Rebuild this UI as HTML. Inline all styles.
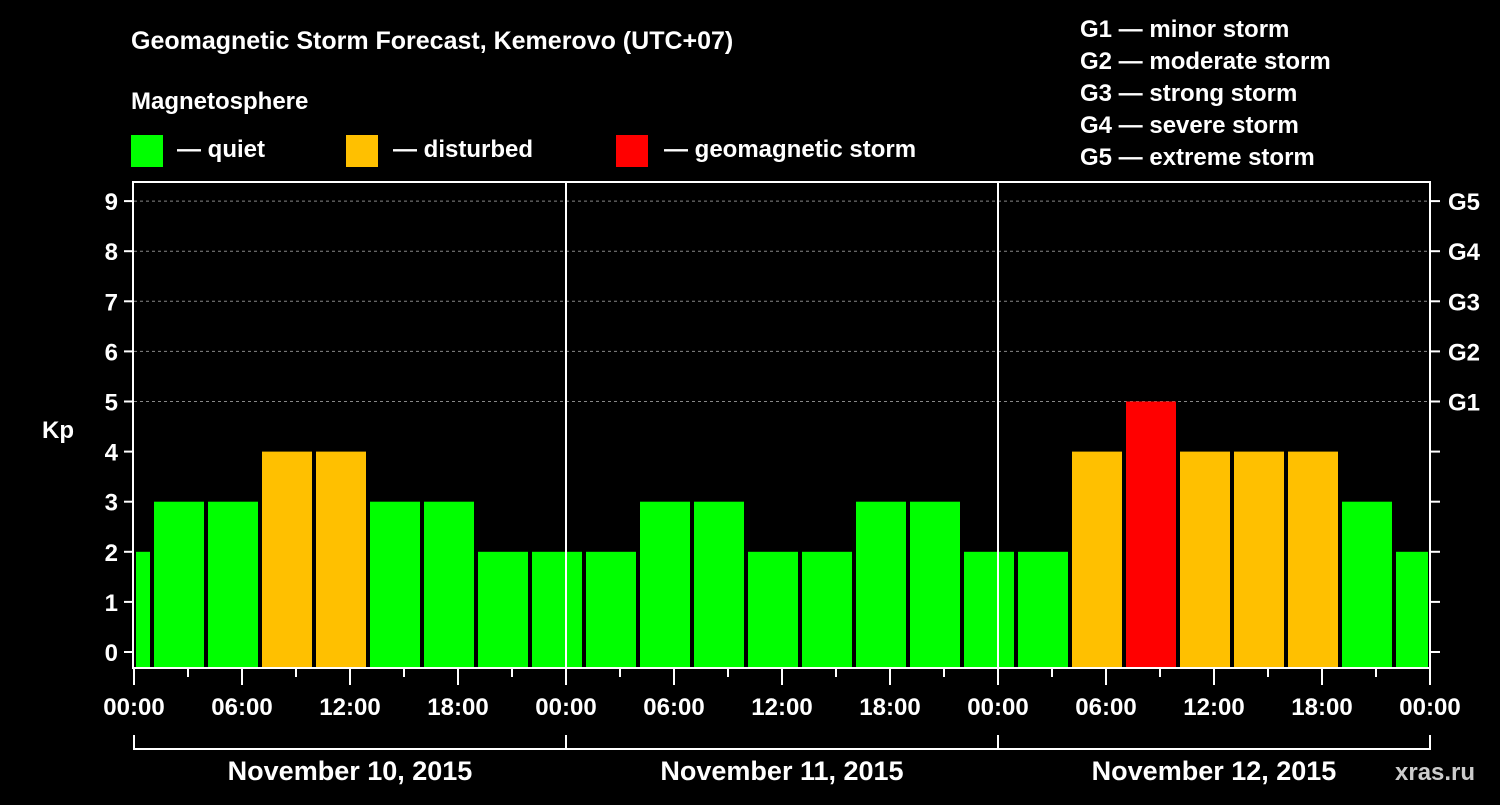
<!DOCTYPE html>
<html><head><meta charset="utf-8"><style>
body{margin:0;background:#000;width:1500px;height:800px;overflow:hidden}
svg text{font-family:"Liberation Sans",Arial,sans-serif;font-weight:bold;fill:#fff}
</style></head><body>
<svg id="chart" width="1500" height="800" xmlns="http://www.w3.org/2000/svg">
<text x="131" y="49" font-size="25">Geomagnetic Storm Forecast, Kemerovo (UTC+07)</text>
<text x="131" y="109" font-size="24">Magnetosphere</text>
<g><rect x="131" y="135" width="32" height="32" fill="#00ff00"/><text x="177" y="157" font-size="24">— quiet</text></g>
<g><rect x="346" y="135" width="32" height="32" fill="#ffc000"/><text x="393" y="157" font-size="24">— disturbed</text></g>
<g><rect x="616" y="135" width="32" height="32" fill="#ff0000"/><text x="664" y="157" font-size="24">— geomagnetic storm</text></g>
<g font-size="24">
<text x="1080" y="37">G1 — minor storm</text><text x="1080" y="69">G2 — moderate storm</text><text x="1080" y="101">G3 — strong storm</text><text x="1080" y="133">G4 — severe storm</text><text x="1080" y="165">G5 — extreme storm</text>
</g>
<g id="plot"></g>
<text x="1395" y="780" font-size="24" fill="#ccc" style="fill:#ccc">xras.ru</text>
</svg>
<script>
const barStartHours=[-2,1,4,7,10,13,16,19,22,25,28,31,34,37,40,43,46,49,52,55,58,61,64,67,70];
const kpValues=[2,3,3,4,4,3,3,2,2,2,3,3,2,2,3,3,2,2,4,5,4,4,4,3,2];
const kpTicks=[0,1,2,3,4,5,6,7,8,9];
const gLabels=["","","","","","G1","G2","G3","G4","G5"];
const timeLabels=["00:00","06:00","12:00","18:00","00:00","06:00","12:00","18:00","00:00","06:00","12:00","18:00","00:00"];
const dayLabels=["November 10, 2015","November 11, 2015","November 12, 2015"];
const X0=134,X1=1430,TOP=182,BOT=668;
const x=h=>X0+(X1-X0)*h/72;
const y=v=>652-v*50.1;
const g=document.getElementById('plot');
const NS="http://www.w3.org/2000/svg";
function mk(t,a,p){const e=document.createElementNS(NS,t);for(const k in a)e.setAttribute(k,a[k]);(p||g).appendChild(e);return e;}
// grid
kpTicks.forEach(v=>{if(v>=5){const l=mk('line',{x1:X0,x2:X1,y1:y(v),y2:y(v),stroke:'#888','stroke-dasharray':'3,3','stroke-width':1});

}});
// bars
barStartHours.forEach((h,i)=>{const v=kpValues[i];const c=v>=5?'#ff0000':v>=4?'#ffc000':'#00ff00';
let a=Math.max(x(h)+2,X0+2),b=Math.min(x(h+3)-2,X1-2);
const r=mk('rect',{x:a,y:y(v),width:b-a,height:BOT-y(v),fill:c});

});
// day separators
[24,48].forEach(h=>{const l=mk('line',{x1:x(h),x2:x(h),y1:TOP,y2:BOT,stroke:'#fff','stroke-width':2});

});
// frame
const f=mk('rect',{x:X0-1,y:TOP,width:X1-X0+1,height:BOT-TOP,fill:'none',stroke:'#fff','stroke-width':2});


// y ticks
kpTicks.forEach((v,i)=>{mk('line',{x1:X0-10,x2:X0,y1:y(v),y2:y(v),stroke:'#fff','stroke-width':2});
mk('line',{x1:X1,x2:X1+10,y1:y(v),y2:y(v),stroke:'#fff','stroke-width':2});
const t=mk('text',{x:X0-16,y:y(v)+9,'font-size':24,'text-anchor':'end'});t.textContent=v;


if(gLabels[i]){const s=mk('text',{x:X1+18,y:y(v)+9,'font-size':24});s.textContent=gLabels[i];

}});
const kp=mk('text',{x:42,y:438,'font-size':24});kp.textContent='Kp';


// x ticks
for(let h=0;h<=72;h+=3){const major=h%6===0;mk('line',{x1:x(h),x2:x(h),y1:BOT,y2:BOT+(major?17:9),stroke:'#fff','stroke-width':2});}
timeLabels.forEach((s,i)=>{const t=mk('text',{x:x(i*6),y:715,'font-size':24,'text-anchor':'middle'});t.textContent=s;

});
// day brackets
mk('line',{x1:x(0),x2:x(72),y1:749,y2:749,stroke:'#fff','stroke-width':2});
[0,24,48,72].forEach(h=>mk('line',{x1:x(h),x2:x(h),y1:735,y2:750,stroke:'#fff','stroke-width':2}));
dayLabels.forEach((s,i)=>{const t=mk('text',{x:x(i*24+12),y:780,'font-size':27,'text-anchor':'middle'});t.textContent=s;

});
</script>
</body></html>
